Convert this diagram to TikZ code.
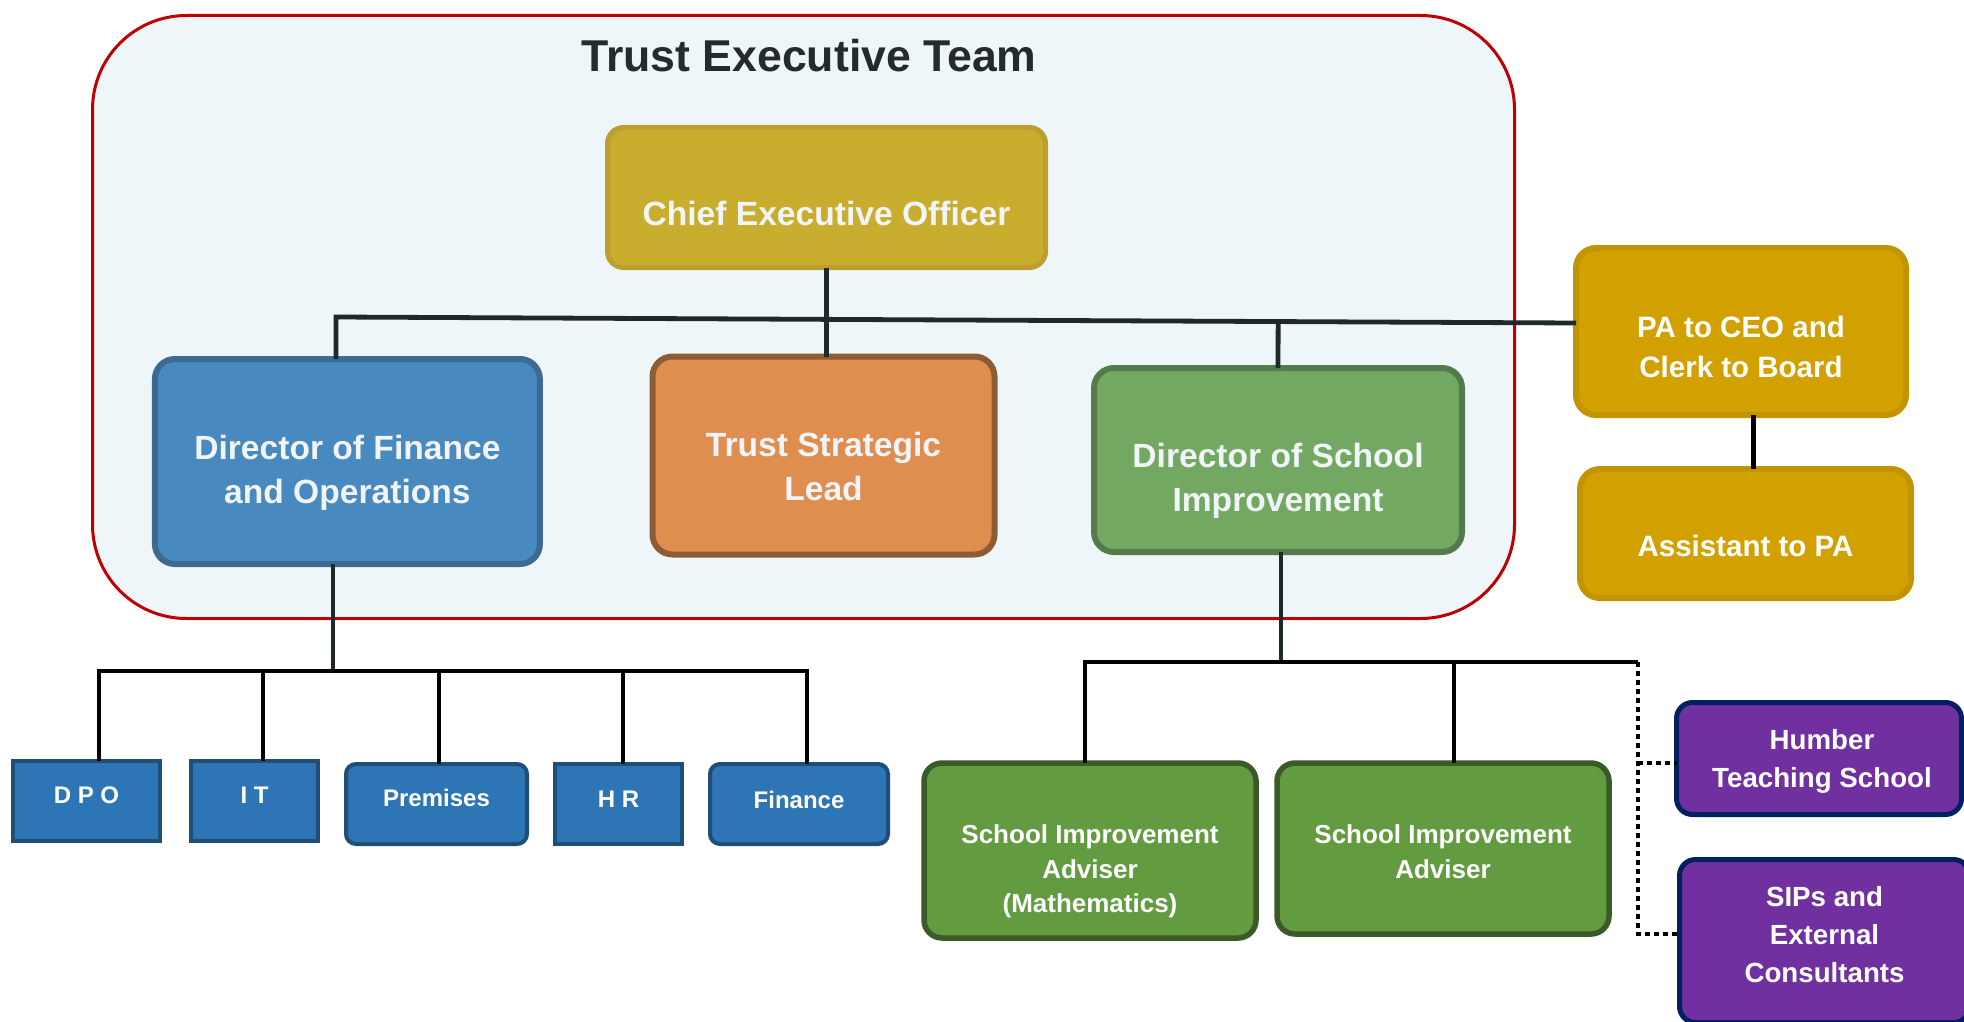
\documentclass[tikz,border=0pt]{standalone}
\usepackage{fontspec}
\setmainfont{Liberation Sans}
\usetikzlibrary{calc}
\definecolor{bgF}{HTML}{EFF6F9}
\definecolor{redC}{HTML}{C00000}
\definecolor{titleC}{HTML}{232B2E}
\definecolor{topLine}{HTML}{1F292C}
\definecolor{ceoF}{HTML}{C9AD2E}
\definecolor{ceoD}{HTML}{BC9F2E}
\definecolor{tslF}{HTML}{E08D50}
\definecolor{tslD}{HTML}{8E5B37}
\definecolor{dofF}{HTML}{4889C0}
\definecolor{dofD}{HTML}{3D6A90}
\definecolor{dsiF}{HTML}{72A862}
\definecolor{dsiD}{HTML}{557A4B}
\definecolor{paF}{HTML}{D2A100}
\definecolor{paD}{HTML}{C29400}
\definecolor{smF}{HTML}{2E75B6}
\definecolor{smD}{HTML}{1F4E79}
\definecolor{siaF}{HTML}{629B40}
\definecolor{siaD}{HTML}{3B5A27}
\definecolor{purF}{HTML}{7030A0}
\definecolor{purD}{HTML}{002060}
\definecolor{offW}{HTML}{F2F5F7}
\newcommand\tb[2]{\raisebox{\dimexpr -#1 - 0.61em + 0.2\baselineskip\relax}[0pt][0pt]{\begin{tabular}{@{}c@{}}#2\end{tabular}}}
\begin{document}
\begin{tikzpicture}[x=1pt,y=-1pt,
  bx/.style={draw, inner sep=0pt, outer sep=0pt, line width=2.5pt},
  bigbox/.style={bx, text=offW, font=\fontsize{16.8pt}{22pt}\selectfont\bfseries, rounded corners=10pt},
  pabox/.style={bx, fill=paF, draw=paD, line width=3pt, text=white, font=\fontsize{14.75pt}{20pt}\selectfont\bfseries, rounded corners=10pt},
  smbox/.style={bx, fill=smF, draw=smD, line width=2pt, text=white, font=\fontsize{12pt}{14pt}\selectfont\bfseries, minimum height=40pt},
  siabox/.style={bx, fill=siaF, draw=siaD, line width=2.75pt, text=white, font=\fontsize{13pt}{17.25pt}\selectfont\bfseries, rounded corners=9pt, minimum width=166pt},
  purbox/.style={bx, fill=purF, draw=purD, line width=2.5pt, text=white, font=\fontsize{13.85pt}{18.9pt}\selectfont\bfseries, rounded corners=8pt},
  conn/.style={draw=topLine, line width=2.4pt},
  connb/.style={draw=black, line width=2.25pt},
  dotline/.style={draw=black, line width=2.1pt, dash pattern=on 2.5pt off 2pt}
]
\useasboundingbox (0,0) rectangle (982,511);
\clip (0,0) rectangle (982,511);
\fill[white] (0,0) rectangle (982,511);

% Trust Executive Team frame
\node[draw=redC, fill=bgF, line width=1.5pt, rounded corners=47pt, minimum width=711pt, minimum height=301.5pt, inner sep=0pt] (team) at (401.75,158.5) {};
\node[anchor=base, text=titleC, font=\fontsize{22.3pt}{26pt}\selectfont\bfseries, inner sep=0pt] (title) at (404.5,35.7) {Trust Executive Team};

% top level
\node[bigbox, fill=ceoF, draw=ceoD, minimum width=219pt, minimum height=70pt, rounded corners=8pt] (ceo) at (413.25,98.75) {\tb{8.25pt}{Chief Executive Officer}};
\node[bigbox, fill=tslF, draw=tslD, line width=3pt, minimum width=171pt, minimum height=99pt] (tsl) at (411.75,227.75) {\tb{5.5pt}{Trust Strategic\\Lead}};
\node[bigbox, fill=dofF, draw=dofD, line width=3pt, minimum width=192.5pt, minimum height=102.5pt] (dof) at (173.7,230.75) {\tb{4pt}{Director of Finance\\and Operations}};
\node[bigbox, fill=dsiF, draw=dsiD, line width=3pt, minimum width=184pt, minimum height=92pt] (dsi) at (639,230) {\tb{9pt}{Director of School\\Improvement}};
\node[pabox, minimum width=165pt, minimum height=83.5pt] (pa) at (870.5,165.75) {\tb{7.75pt}{PA to CEO and\\Clerk to Board}};
\node[pabox, minimum width=165.5pt, minimum height=64.5pt] (asst) at (872.75,266.75) {\tb{6.25pt}{Assistant to PA}};

% finance team
\node[smbox, minimum width=73.5pt] (dpo) at (43.25,400.5) {\tb{-3pt}{D P O}};
\node[smbox, minimum width=63.5pt] (it) at (127.25,400.5) {\tb{-3pt}{I T}};
\node[smbox, minimum width=90.5pt, rounded corners=5pt] (prem) at (218.25,402) {\tb{-3pt}{Premises}};
\node[smbox, minimum width=63.5pt] (hr) at (309.25,402) {\tb{-2.5pt}{H R}};
\node[smbox, minimum width=89pt, rounded corners=5pt] (fin) at (399.5,402) {\tb{-2pt}{Finance}};

% school improvement team
\node[siabox, minimum height=87.5pt] (siam) at (545,425.25) {\tb{9pt}{School Improvement\\Adviser\\(Mathematics)}};
\node[siabox, minimum height=85.5pt] (sia) at (721.5,424.25) {\tb{1.25pt}{School Improvement\\Adviser}};
\node[purbox, minimum width=142.5pt, minimum height=56pt] (humber) at (909.5,379.25) {\hspace*{3pt}\tb{0pt}{Humber\\Teaching School}};
\node[purbox, minimum width=145pt, minimum height=81.5pt] (sips) at (912.25,470.5) {\tb{-3.25pt}{SIPs and\\External\\Consultants}};

% top connectors
\coordinate (tl) at (168,158.5);
\coordinate (tr) at ([yshift=4.25pt]pa.west);
\draw[conn] (tl |- dof.north) -- (tl) -- (tr);
\draw[conn] (ceo.south) -- (ceo.south |- tsl.north);
\draw[conn] (dsi.north) -- ($(tl)!(dsi.north)!(tr)$);
\draw[connb, line width=2.5pt] ([xshift=6pt]pa.south) -- ([xshift=6pt]pa.south |- asst.north);

% finance connectors
\coordinate (bj) at (166.5,335.5);
\coordinate (b1) at (49.5,335.5);
\coordinate (b2) at (131.5,335.5);
\coordinate (b3) at (219.5,335.5);
\coordinate (b4) at (311.5,335.5);
\coordinate (b5) at (403.5,335.5);
\draw[conn] (dof.south -| bj) -- ([yshift=-1pt]bj);
\draw[connb] (b1 |- dpo.north) -- (b1) -- (b5) -- (b5 |- fin.north);
\draw[connb] (b2) -- (b2 |- it.north);
\draw[connb] (b3) -- (b3 |- prem.north);
\draw[connb] (b4) -- (b4 |- hr.north);

% school improvement connectors
\coordinate (gj) at (640.5,331);
\coordinate (g1) at (542.5,331);
\coordinate (g2) at (727,331);
\coordinate (g3) at (819,331);
\coordinate (d1) at (819,381.5);
\coordinate (d2) at (819,467);
\draw[conn] (dsi.south -| gj) -- ([yshift=-1pt]gj);
\draw[connb] (g1 |- siam.north) -- (g1) -- (g3);
\draw[connb] (g2) -- (g2 |- sia.north);
\draw[dotline] (g3) -- (d2) -- (d2 -| sips.west);
\draw[dotline] (d1) -- (d1 -| humber.west);
\end{tikzpicture}
\end{document}
